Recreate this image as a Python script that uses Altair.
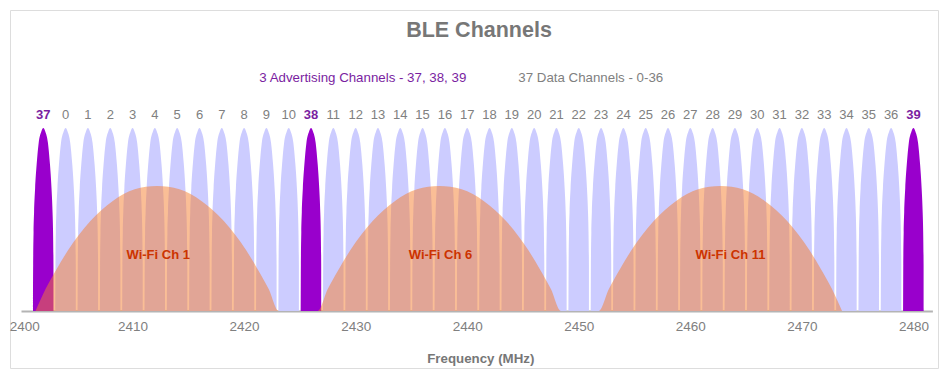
import altair as alt
import pandas as pd

# ---------------- data ----------------
adv_channels = [37, 38, 39]
adv_freqs = [2402, 2426, 2480]

data_channels = [0, 1, 2, 3, 4, 5, 6, 7, 8, 9, 10,
                 11, 12, 13, 14, 15, 16, 17, 18, 19, 20, 21, 22, 23, 24,
                 25, 26, 27, 28, 29, 30, 31, 32, 33, 34, 35, 36]
data_freqs = [2404, 2406, 2408, 2410, 2412, 2414, 2416, 2418, 2420, 2422, 2424,
              2428, 2430, 2432, 2434, 2436, 2438, 2440, 2442, 2444, 2446, 2448,
              2450, 2452, 2454, 2456, 2458, 2460, 2462, 2464, 2466, 2468, 2470,
              2472, 2474, 2476, 2478]

# BLE lobe profile (fraction of half width -> relative level)
ble_profile_offset = [-1.0, -0.99, -0.95, -0.9, -0.8, -0.65, -0.45, -0.2, 0.0,
                      0.2, 0.45, 0.65, 0.8, 0.9, 0.95, 0.99, 1.0]
ble_profile_level = [0.0, 0.25, 0.43, 0.54, 0.67, 0.8, 0.92, 0.98, 1.0,
                     0.98, 0.92, 0.8, 0.67, 0.54, 0.43, 0.25, 0.0]
ble_half_width = 0.92  # MHz

wifi_labels = ["Wi-Fi Ch 1", "Wi-Fi Ch 6", "Wi-Fi Ch 11"]
wifi_centers = [2412.2, 2437.5, 2462.7]
wifi_label_mhz = [2412.3, 2437.6, 2463.6]
wifi_offsets = [-10.9, -10, -9, -8, -6, -4, -2, 0, 2, 4, 6, 8, 9, 10, 10.9]
wifi_levels = [0.0, 0.12, 0.23, 0.33, 0.49, 0.6, 0.665, 0.683,
               0.665, 0.6, 0.49, 0.33, 0.23, 0.12, 0.0]

x_ticks = [2400, 2410, 2420, 2430, 2440, 2450, 2460, 2470, 2480]
legend_labels = ["3 Advertising Channels - 37, 38, 39", "37 Data Channels - 0-36"]

# ---------------- tables ----------------
def lobes(channels, freqs):
    rows = []
    for ch, f in zip(channels, freqs):
        for o, lv in zip(ble_profile_offset, ble_profile_level):
            rows.append({"ch": ch, "mhz": f + o * ble_half_width, "level": lv})
    return pd.DataFrame(rows)

adv_df = lobes(adv_channels, adv_freqs)
data_df = lobes(data_channels, data_freqs)

wifi_rows = []
for lab, c in zip(wifi_labels, wifi_centers):
    for o, lv in zip(wifi_offsets, wifi_levels):
        wifi_rows.append({"wifi": lab, "mhz": c + o, "level": lv})
wifi_df = pd.DataFrame(wifi_rows)

adv_lab = pd.DataFrame({"ch": [str(c) for c in adv_channels], "mhz": adv_freqs})
data_lab = pd.DataFrame({"ch": [str(c) for c in data_channels], "mhz": data_freqs})
wifi_lab = pd.DataFrame({"wifi": wifi_labels, "mhz": wifi_label_mhz})

# ---------------- styling ----------------
FONT = "Liberation Sans, Arial, sans-serif"
W, H = 928, 358
PURPLE = "#9900cc"
PURPLE_TXT = "#7a1ea1"
LAVENDER = "#ccccff"
WIFI = "#f57d2d"
GRAY = "#808080"

x_scale = alt.Scale(domain=[2400, 2481.7], range=[11, 922.4], nice=False, zero=False)
y_scale = alt.Scale(domain=[0, 1], range=[301, 118], nice=False, zero=True)

x_axis = alt.Axis(
    values=x_ticks, format="d", grid=False, ticks=False,
    domainColor="#b4b4b4", domainWidth=2, offset=301 - H,
    labelColor=GRAY, labelFont=FONT, labelFontSize=13.5,
    labelBaseline="alphabetic", labelPadding=19.5,
    labelFlush=5, labelFlushOffset=11.7, labelOverlap=False,
    title="Frequency (MHz)", titleFont=FONT, titleFontSize=13.3,
    titleFontWeight="bold", titleColor="#777777",
    titleBaseline="alphabetic", titleX=470.3, titleY=51.5,
)

X = alt.X("mhz:Q", scale=x_scale, axis=x_axis)
Y = alt.Y("level:Q", scale=y_scale, axis=None)

data_area = alt.Chart(data_df).mark_area(
    color=LAVENDER, interpolate="monotone"
).encode(x=X, y=Y, detail="ch:N")

adv_area = alt.Chart(adv_df).mark_area(
    color=PURPLE, interpolate="monotone"
).encode(x=X, y=Y, detail="ch:N")

wifi_area = alt.Chart(wifi_df).mark_area(
    color=WIFI, opacity=0.5, interpolate="monotone"
).encode(x=X, y=Y, detail="wifi:N")

data_text = alt.Chart(data_lab).mark_text(
    font=FONT, fontSize=13, color=GRAY, baseline="alphabetic", align="center"
).encode(x=X, y=alt.datum(1.049, scale=y_scale), text="ch:N")

adv_text = alt.Chart(adv_lab).mark_text(
    font=FONT, fontSize=13, fontWeight="bold", color=PURPLE_TXT,
    baseline="alphabetic", align="center"
).encode(x=X, y=alt.datum(1.049, scale=y_scale), text="ch:N")

wifi_text = alt.Chart(wifi_lab).mark_text(
    font=FONT, fontSize=13, fontWeight="bold", color="#cc3300",
    baseline="alphabetic", align="center"
).encode(x=X, y=alt.datum(0.284, scale=y_scale), text="wifi:N")

leg1 = alt.Chart(pd.DataFrame({"t": [legend_labels[0]]})).mark_text(
    font=FONT, fontSize=13.3, color=PURPLE_TXT, align="left", baseline="alphabetic"
).encode(x=alt.value(249.3), y=alt.value(71.5), text="t:N")

leg2 = alt.Chart(pd.DataFrame({"t": [legend_labels[1]]})).mark_text(
    font=FONT, fontSize=13.3, color=GRAY, align="left", baseline="alphabetic"
).encode(x=alt.value(508.3), y=alt.value(71.5), text="t:N")

chart = alt.layer(
    data_area, adv_area, wifi_area, data_text, adv_text, wifi_text, leg1, leg2
).properties(
    width=W, height=H, padding=2,
    autosize=alt.AutoSizeParams(type="none"),
    title=alt.TitleParams(
        "BLE Channels", font=FONT, fontSize=21.5, fontWeight="bold",
        color="#777777", anchor="middle", baseline="alphabetic",
        offset=-48, dx=5,
    ),
).configure_view(
    stroke="#c4c4c4", strokeWidth=3
).configure(background="white")

chart.save("out.html", embed_options={"renderer": "svg", "actions": False})
